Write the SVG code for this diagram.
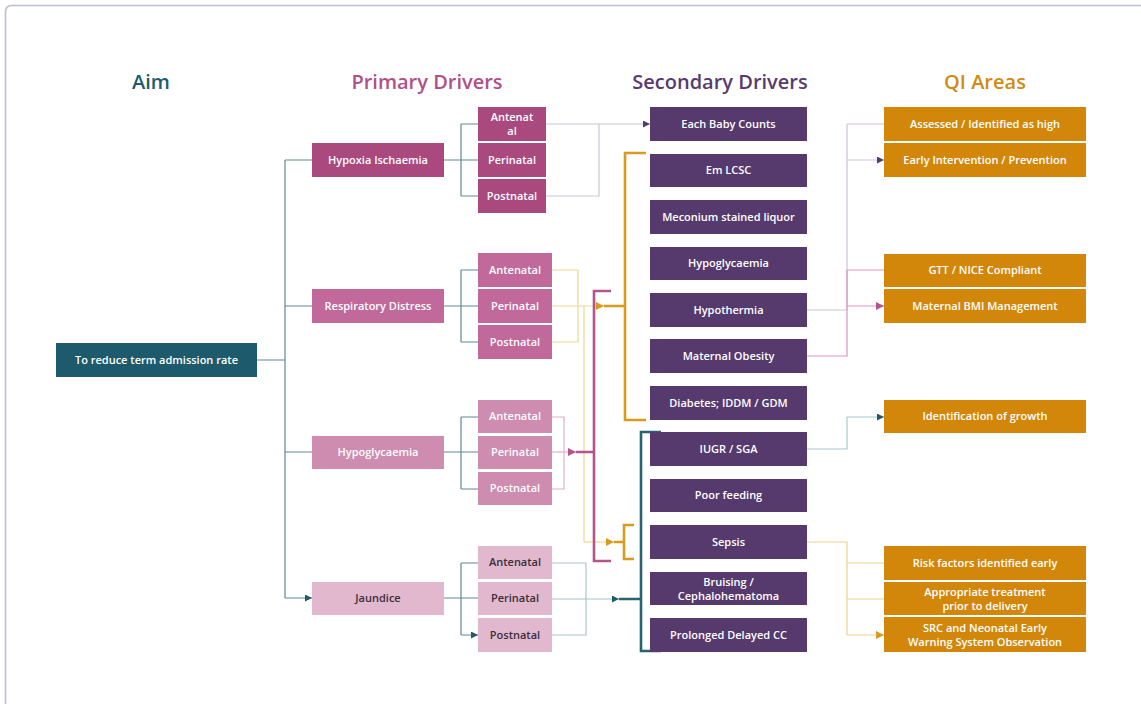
<svg xmlns="http://www.w3.org/2000/svg" width="1141" height="704" viewBox="0 0 1141 704">
<style>
text{font-family:"Open Sans","Noto Sans","Liberation Sans",sans-serif;font-weight:600;text-anchor:middle;font-size:11px;fill:#fff}
.t{font-size:20px;font-weight:600}
.dk{fill:#3a2f3a}
.thin{fill:none;stroke-width:1.2}
.thick{fill:none;stroke-width:2.6}
</style>
<defs>
<marker id="aT" viewBox="0 0 6 6" refX="6" refY="3" markerWidth="7" markerHeight="7" markerUnits="userSpaceOnUse" orient="auto"><path d="M0,0L6,3L0,6z" fill="#1d5a6b"/></marker>
<marker id="aP" viewBox="0 0 6 6" refX="6" refY="3" markerWidth="7" markerHeight="7" markerUnits="userSpaceOnUse" orient="auto"><path d="M0,0L6,3L0,6z" fill="#563a6e"/></marker>
<marker id="aO" viewBox="0 0 6 6" refX="6" refY="3" markerWidth="8" markerHeight="8" markerUnits="userSpaceOnUse" orient="auto"><path d="M0,0L6,3L0,6z" fill="#d99a1e"/></marker>
<marker id="aM" viewBox="0 0 6 6" refX="6" refY="3" markerWidth="8" markerHeight="8" markerUnits="userSpaceOnUse" orient="auto"><path d="M0,0L6,3L0,6z" fill="#b5548b"/></marker>
</defs>
<rect width="1141" height="704" fill="#fff"/>
<path d="M5.5,704V12Q5.5,5.5 12,5.5H1141" fill="none" stroke="#bdbdd6" stroke-width="1.6"/>

<g id="titles">
<text class="t" x="151" y="89" fill="#1e5b6b" style="fill:#1e5b6b">Aim</text>
<text class="t" x="427" y="89" style="fill:#b24f87">Primary Drivers</text>
<text class="t" x="720" y="89" style="fill:#583b70">Secondary Drivers</text>
<text class="t" x="985" y="89" style="fill:#d28a12">QI Areas</text>
</g>

<g id="connectors">
<!-- aim to primary -->
<path class="thin" stroke="#5c8a95" d="M257,360H285M285,160V598"/>
<path class="thin" stroke="#5c8a95" marker-end="url(#aT)" d="M285,160H312M285,306H312M285,452H312M285,598H312"/>
<!-- primary to subs -->
<path class="thin" stroke="#5c8a95" d="M444,160H461M461,124V196M444,306H461M461,270V342M444,452H461M461,417V489M444,598H461M461,563V635"/>
<path class="thin" stroke="#5c8a95" marker-end="url(#aT)" d="M461,124H478M461,160H478M461,196H478M461,270H478M461,306H478M461,342H478M461,417H478M461,452H478M461,489H478M461,563H478M461,598H478M461,635H478"/>
<!-- hypoxia to each baby counts -->
<path class="thin" stroke="#cac6d8" d="M546,196H599V124"/>
<path class="thin" stroke="#cac6d8" marker-end="url(#aP)" d="M546,124H650"/>
<!-- respiratory -->
<path class="thin" stroke="#f0d596" d="M552,270H578V342H552M584,306V542"/>
<path class="thin" stroke="#f0d596" marker-end="url(#aO)" d="M552,306H604"/>
<path class="thin" stroke="#f0d596" marker-end="url(#aO)" d="M584,542H614"/>
<path class="thick" stroke="#d99a1e" d="M604,306H625M646,153H625V420H646"/>
<path class="thick" stroke="#d99a1e" d="M614,542H624M634,525H624V559H634"/>
<!-- hypoglycaemia -->
<path class="thin" stroke="#e3afcc" d="M552,417H564V489H552"/>
<path class="thin" stroke="#e3afcc" marker-end="url(#aM)" d="M552,452H576"/>
<path class="thick" stroke="#b5548b" d="M576,452H594M611,291H594V561H611"/>
<!-- jaundice -->
<path class="thin" stroke="#a9c4c9" d="M552,563H586V635H552"/>
<path class="thin" stroke="#a9c4c9" marker-end="url(#aT)" d="M552,599H619"/>
<path class="thick" stroke="#2a6272" d="M619,599H641M661,432H641V651H661"/>
<!-- secondary to QI -->
<path class="thin" stroke="#cdbfd9" d="M807,310H847V124"/>
<path class="thin" stroke="#cdbfd9" marker-end="url(#aP)" d="M847,124H884M847,160H884"/>
<path class="thin" stroke="#dc97bf" d="M807,356H847V270"/>
<path class="thin" stroke="#dc97bf" marker-end="url(#aM)" d="M847,270H884M847,306H884"/>
<path class="thin" stroke="#a8c8cc" d="M807,449H847V417"/>
<path class="thin" stroke="#a8c8cc" marker-end="url(#aT)" d="M847,417H884"/>
<path class="thin" stroke="#ecd08f" d="M807,542H847V635"/>
<path class="thin" stroke="#ecd08f" marker-end="url(#aO)" d="M847,563H884M847,599H884M847,635H884"/>
</g>

<g id="aim"><rect x="56" y="343" width="201" height="34" fill="#1d5a6b"/><text x="156.5" y="364">To reduce term admission rate</text></g>

<g id="p-hypoxia"><rect x="312" y="143" width="132" height="34" fill="#a9497e"/><text x="378" y="164">Hypoxia Ischaemia</text></g>
<g id="p-resp"><rect x="312" y="289" width="132" height="34" fill="#c0699a"/><text x="378" y="310">Respiratory Distress</text></g>
<g id="p-hypo"><rect x="312" y="436" width="132" height="33" fill="#cd8cb0"/><text x="378" y="456">Hypoglycaemia</text></g>
<g id="p-jaund"><rect x="312" y="582" width="132" height="33" fill="#e2b8cf"/><text class="dk" x="378" y="602">Jaundice</text></g>

<g id="s-hx-ante"><rect x="478" y="107" width="68" height="34" fill="#a9497e"/><text x="512" y="121">Antenat</text><text x="512" y="135">al</text></g>
<g id="s-hx-peri"><rect x="478" y="143" width="68" height="34" fill="#a9497e"/><text x="512" y="164">Perinatal</text></g>
<g id="s-hx-post"><rect x="478" y="179" width="68" height="34" fill="#a9497e"/><text x="512" y="200">Postnatal</text></g>

<g id="s-rd-ante"><rect x="478" y="253" width="74" height="34" fill="#c0699a"/><text x="515" y="274">Antenatal</text></g>
<g id="s-rd-peri"><rect x="478" y="289" width="74" height="34" fill="#c0699a"/><text x="515" y="310">Perinatal</text></g>
<g id="s-rd-post"><rect x="478" y="325" width="74" height="34" fill="#c0699a"/><text x="515" y="346">Postnatal</text></g>

<g id="s-hg-ante"><rect x="478" y="400" width="74" height="33" fill="#cd8cb0"/><text x="515" y="420">Antenatal</text></g>
<g id="s-hg-peri"><rect x="478" y="436" width="74" height="33" fill="#cd8cb0"/><text x="515" y="456">Perinatal</text></g>
<g id="s-hg-post"><rect x="478" y="472" width="74" height="33" fill="#cd8cb0"/><text x="515" y="492">Postnatal</text></g>

<g id="s-jd-ante"><rect x="478" y="546" width="74" height="33" fill="#e2b8cf"/><text class="dk" x="515" y="566">Antenatal</text></g>
<g id="s-jd-peri"><rect x="478" y="582" width="74" height="33" fill="#e2b8cf"/><text class="dk" x="515" y="602">Perinatal</text></g>
<g id="s-jd-post"><rect x="478" y="618" width="74" height="34" fill="#e2b8cf"/><text class="dk" x="515" y="639">Postnatal</text></g>

<g id="d-ebc"><rect x="650" y="107" width="157" height="34" fill="#563a6e"/><text x="728.5" y="128">Each Baby Counts</text></g>
<g id="d-emlcsc"><rect x="650" y="154" width="157" height="33" fill="#563a6e"/><text x="728.5" y="174">Em LCSC</text></g>
<g id="d-mec"><rect x="650" y="200" width="157" height="34" fill="#563a6e"/><text x="728.5" y="221">Meconium stained liquor</text></g>
<g id="d-hypo"><rect x="650" y="247" width="157" height="33" fill="#563a6e"/><text x="728.5" y="267">Hypoglycaemia</text></g>
<g id="d-hypot"><rect x="650" y="293" width="157" height="34" fill="#563a6e"/><text x="728.5" y="314">Hypothermia</text></g>
<g id="d-mo"><rect x="650" y="339" width="157" height="34" fill="#563a6e"/><text x="728.5" y="360">Maternal Obesity</text></g>
<g id="d-diab"><rect x="650" y="386" width="157" height="34" fill="#563a6e"/><text x="728.5" y="407">Diabetes; IDDM / GDM</text></g>
<g id="d-iugr"><rect x="650" y="432" width="157" height="34" fill="#563a6e"/><text x="728.5" y="453">IUGR / SGA</text></g>
<g id="d-poor"><rect x="650" y="479" width="157" height="33" fill="#563a6e"/><text x="728.5" y="499">Poor feeding</text></g>
<g id="d-sepsis"><rect x="650" y="525" width="157" height="34" fill="#563a6e"/><text x="728.5" y="546">Sepsis</text></g>
<g id="d-bruis"><rect x="650" y="572" width="157" height="33" fill="#563a6e"/><text x="728.5" y="586">Bruising /</text><text x="728.5" y="600">Cephalohematoma</text></g>
<g id="d-prol"><rect x="650" y="618" width="157" height="34" fill="#563a6e"/><text x="728.5" y="639">Prolonged Delayed CC</text></g>

<g id="q-assess"><rect x="884" y="107" width="202" height="34" fill="#d2870a"/><text x="985" y="128">Assessed / Identified as high</text></g>
<g id="q-early"><rect x="884" y="143" width="202" height="34" fill="#d2870a"/><text x="985" y="164">Early Intervention / Prevention</text></g>
<g id="q-gtt"><rect x="884" y="254" width="202" height="33" fill="#d2870a"/><text x="985" y="274">GTT / NICE Compliant</text></g>
<g id="q-bmi"><rect x="884" y="289" width="202" height="34" fill="#d2870a"/><text x="985" y="310">Maternal BMI Management</text></g>
<g id="q-growth"><rect x="884" y="400" width="202" height="33" fill="#d2870a"/><text x="985" y="420">Identification of growth</text></g>
<g id="q-risk"><rect x="884" y="546" width="202" height="34" fill="#d2870a"/><text x="985" y="567">Risk factors identified early</text></g>
<g id="q-appr"><rect x="884" y="582" width="202" height="33" fill="#d2870a"/><text x="985" y="596">Appropriate treatment</text><text x="985" y="610">prior to delivery</text></g>
<g id="q-src"><rect x="884" y="617" width="202" height="35" fill="#d2870a"/><text x="985" y="632">SRC and Neonatal Early</text><text x="985" y="646">Warning System Observation</text></g>
</svg>
